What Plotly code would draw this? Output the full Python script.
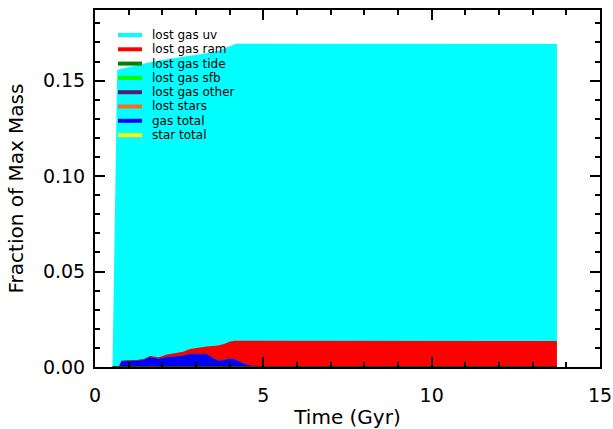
import numpy as np
import plotly.graph_objects as go

# Time axis (Gyr)
time = [0.52, 0.66, 0.72, 0.79, 1.00, 1.24, 1.45, 1.63, 1.75, 1.88,
        2.13, 2.40, 2.62, 2.82, 3.12, 3.32, 3.50, 3.66, 3.85, 4.01,
        4.15, 4.26, 4.50, 4.75, 5.00, 6.00, 7.00, 8.00, 9.00, 10.00,
        11.00, 12.00, 13.00, 13.72]

# Mass components as fraction of max mass (stacked bottom to top)
gas_total = [0, 0, 0, 0.0028, 0.0029, 0.0031, 0.0036, 0.0050, 0.0046, 0.0042,
             0.0050, 0.0053, 0.0058, 0.0066, 0.0067, 0.0066, 0.0045, 0.0031, 0.0036, 0.0042,
             0.0038, 0.0028, 0.0010, 0.0003, 0, 0, 0, 0, 0, 0,
             0, 0, 0, 0]
lost_gas_other = [0, 0, 0, 0.0003, 0.0003, 0.0003, 0.0003, 0.0003, 0.0003, 0.0003,
                  0.0003, 0.0003, 0.0003, 0.0003, 0.0003, 0.0003, 0.0003, 0.0003, 0.0003, 0.0003,
                  0.0003, 0.0003, 0.0003, 0.0002, 0.0002, 0.0002, 0.0002, 0.0002, 0.0002, 0.0002,
                  0.0002, 0.0002, 0.0002, 0.0002]
lost_gas_ram = [0, 0, 0, 0.0001, 0.0001, 0.0002, 0.0002, 0.0005, 0.0006, 0.0005,
                0.0013, 0.0016, 0.0019, 0.0025, 0.0033, 0.0038, 0.0062, 0.0079, 0.0083, 0.0088,
                0.0097, 0.0107, 0.0124, 0.0131, 0.0134, 0.0134, 0.0134, 0.0134, 0.0134, 0.0134,
                0.0134, 0.0134, 0.0134, 0.0134]
lost_gas_uv = [0, 0.1556, 0.1559, 0.1530, 0.1537, 0.1544, 0.1547, 0.1538, 0.1546, 0.1556,
               0.1546, 0.1548, 0.1546, 0.1538, 0.1535, 0.1536, 0.1539, 0.1544, 0.1548, 0.1549,
               0.1552, 0.1555, 0.1556, 0.1556, 0.1556, 0.1556, 0.1556, 0.1556, 0.1556, 0.1556,
               0.1556, 0.1556, 0.1556, 0.1556]

legend_names = ["lost gas uv", "lost gas ram", "lost gas tide", "lost gas sfb",
                "lost gas other", "lost stars", "gas total", "star total"]
legend_colors = ["#00ffff", "#ff0000", "#007f00", "#00ff00",
                 "#5a1a78", "#ff6a1a", "#0000ff", "#ffff00"]

# Cumulative levels for each stacked polygon
lvl_gas = np.array(gas_total)
lvl_other = lvl_gas + np.array(lost_gas_other)
lvl_ram = lvl_other + np.array(lost_gas_ram)
lvl_uv = lvl_ram + np.array(lost_gas_uv)

fig = go.Figure()

# Filled polygons, drawn from the top level down so lower ones stay visible
fills = [
    (lvl_uv, "#00ffff", "#00ffff", 0),
    (lvl_ram, "#ff0000", "#ff0000", 0),
    (lvl_other, "#5a1a78", "#7a2a60", 1),
    (lvl_gas, "#0000ff", "#0000ff", 0),
]
for level, fcol, lcol, lw in fills:
    fig.add_trace(go.Scatter(
        x=time, y=level, mode="lines", fill="tozeroy", fillcolor=fcol,
        line=dict(color=lcol, width=lw), showlegend=False, hoverinfo="skip"))

# Tidal-loss line running along the floor
fig.add_trace(go.Scatter(x=time, y=[0] * len(time), mode="lines",
                         line=dict(color="#3a3a10", width=2),
                         showlegend=False, hoverinfo="skip"))

# Compact legend: short thick colour bars with labels, inside the top-left corner
PLOT_L, PLOT_W, PLOT_T, PLOT_H = 95, 505, 10, 357
row0, row_gap = 35, 14.3
shapes, annotations = [], []
for i, (name, col) in enumerate(zip(legend_names, legend_colors)):
    yp = 1 - (row0 + i * row_gap - PLOT_T) / PLOT_H
    x0 = (118 - PLOT_L) / PLOT_W
    x1 = (142 - PLOT_L) / PLOT_W
    shapes.append(dict(type="line", xref="paper", yref="paper", x0=x0, x1=x1, y0=yp, y1=yp,
                       line=dict(color=col, width=4)))
    annotations.append(dict(xref="paper", yref="paper", x=(150 - PLOT_L) / PLOT_W, y=yp,
                            xanchor="left", yanchor="middle", text=name, showarrow=False,
                            font=dict(family="DejaVu Sans", size=12, color="black")))

tick_font = dict(family="DejaVu Sans", size=19, color="black")
title_font = dict(family="DejaVu Sans", size=20, color="black")
common = dict(showline=True, linecolor="black", linewidth=2, mirror="allticks",
              ticks="inside", ticklen=10, tickwidth=1.5, tickcolor="black",
              showgrid=False, zeroline=False, tickfont=tick_font, automargin=False)

fig.update_layout(
    width=613, height=429,
    margin=dict(l=95, r=13, t=10, b=62),
    paper_bgcolor="white", plot_bgcolor="white",
    font=dict(family="DejaVu Sans", color="black"),
    showlegend=False,
    shapes=shapes, annotations=annotations,
    xaxis=dict(range=[0, 15], dtick=5, tick0=0, ticklabelstandoff=10,
               minor=dict(dtick=1, ticks="inside", ticklen=5, tickcolor="black", tickwidth=1.5),
               title=dict(text="Time (Gyr)", font=title_font, standoff=8), **common),
    yaxis=dict(range=[0, 0.187], dtick=0.05, tick0=0, tickformat=".2f", ticklabelstandoff=4,
               minor=dict(dtick=0.01, ticks="inside", ticklen=5, tickcolor="black", tickwidth=1.5),
               title=dict(text="Fraction of Max Mass", font=title_font, standoff=14), **common),
)

fig.write_html("out.html")
